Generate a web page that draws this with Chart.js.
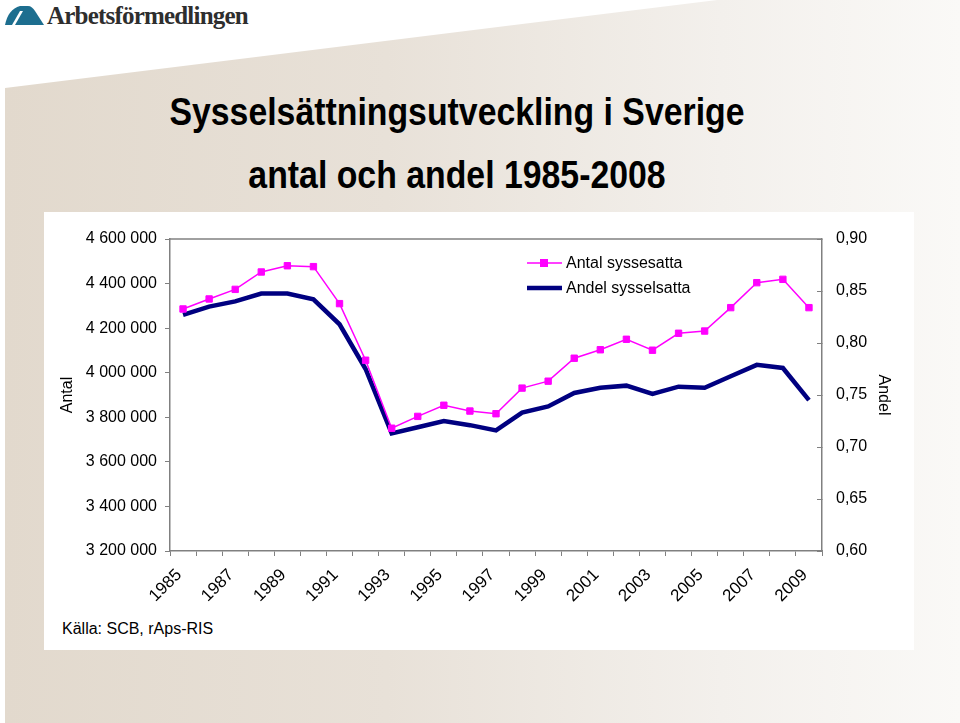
<!DOCTYPE html>
<html><head><meta charset="utf-8">
<script src="https://cdn.jsdelivr.net/npm/chart.js@4.4.1/dist/chart.umd.min.js"></script>
<style>
html,body{margin:0;padding:0;width:960px;height:723px;overflow:hidden;background:#fff;font-family:"Liberation Sans",Arial,sans-serif;}
#bg{position:absolute;left:5px;top:0;width:955px;height:723px;background:linear-gradient(90deg,#e2d9cd 0%,#e8e1d8 40%,#f3f0ec 75%,#faf9f7 100%);clip-path:polygon(0 88px,955px -30px,955px 723px,0 723px);}
#box{position:absolute;left:44px;top:212px;width:870px;height:438px;background:#fff;}
.t{position:absolute;left:0;width:914px;text-align:center;font-weight:bold;color:#000;font-size:38px;line-height:38px;white-space:nowrap;transform:scaleX(0.89);transform-origin:457px 0;}
#logo{position:absolute;left:5px;top:4px;}
#logotxt{position:absolute;left:47px;top:2px;font-family:"Liberation Serif","Times New Roman",serif;font-weight:bold;font-size:25px;letter-spacing:-0.8px;color:#2e2e2e;line-height:28px;}
#src{position:absolute;left:62px;top:619px;font-size:16px;line-height:20px;color:#000;}
#c{position:absolute;left:0;top:0;}
</style></head>
<body>
<div id="bg"></div>
<svg id="logo" width="40" height="24" viewBox="0 0 40 24">
  <path d="M0,21 C2,11 7,4 15,2 L23,2 C26,2 28,4 30,7 L39,21 Z" fill="#1d6e8f"/>
  <path d="M7,21 L15,7 L18,7 L10,21 Z" fill="#fff"/>
</svg>
<div id="logotxt">Arbetsförmedlingen</div>
<div class="t" style="top:93px;">Sysselsättningsutveckling i Sverige</div>
<div class="t" style="top:156px;">antal och andel 1985-2008</div>
<div id="box"></div>
<div id="src">Källa: SCB, rAps-RIS</div>
<canvas id="c" width="960" height="723"></canvas>
<script>
const years = ['1985','1986','1987','1988','1989','1990','1991','1992','1993','1994','1995','1996','1997','1998','1999','2000','2001','2002','2003','2004','2005','2006','2007','2008','2009'];
const antal = [4286000,4331000,4374000,4452000,4480000,4476000,4310000,4056000,3751000,3804000,3854000,3828000,3816000,3931000,3962000,4065000,4103000,4150000,4101000,4177000,4187000,4292000,4404000,4419000,4292000];
const andel = [0.827,0.835,0.840,0.8475,0.8475,0.842,0.818,0.775,0.713,0.719,0.725,0.721,0.716,0.733,0.739,0.752,0.757,0.759,0.751,0.758,0.757,0.768,0.779,0.776,0.745];
const antalTicks = [3200000,3400000,3600000,3800000,4000000,4200000,4400000,4600000];
const andelTicks = [0.60,0.65,0.70,0.75,0.80,0.85,0.90];
const seriesNames = ['Antal syssesatta','Andel sysselsatta'];
const axisTitles = ['Antal','Andel'];

const FONT = '"Liberation Sans", Arial, sans-serif';
const fmtSpace = v => String(Math.round(v)).replace(/\B(?=(\d{3})+(?!\d))/g,' ');
const fmtComma = v => Number(v).toFixed(2).replace('.',',');

const plotBorder = {
  id:'plotBorder',
  beforeDatasetsDraw(chart){
    const {ctx, chartArea:a} = chart;
    ctx.save();
    ctx.strokeStyle = '#808080';
    ctx.lineWidth = 1.5;
    ctx.beginPath();
    ctx.moveTo(a.left, a.top); ctx.lineTo(a.right, a.top);
    ctx.stroke();
    ctx.restore();
  }
};
const customLegend = {
  id:'customLegend',
  afterDraw(chart){
    const ctx = chart.ctx;
    const ds = chart.data.datasets;
    const x0 = 527, x1 = 562, tx = 566;
    const ys = [263, 288];
    ctx.save();
    ctx.font = '16px ' + FONT;
    ctx.textBaseline = 'middle';
    ctx.fillStyle = '#000';
    ds.forEach((d,i) => {
      const y = ys[i];
      ctx.strokeStyle = d.borderColor;
      ctx.lineWidth = d.borderWidth;
      ctx.beginPath(); ctx.moveTo(x0,y); ctx.lineTo(x1,y); ctx.stroke();
      if (d.pointRadius > 0) {
        ctx.fillStyle = d.pointBackgroundColor;
        ctx.fillRect(544-4, y-4, 8, 8);
      }
      ctx.fillStyle = '#000';
      ctx.fillText(d.label, tx, y+1);
    });
    ctx.restore();
  }
};

new Chart(document.getElementById('c'), {
  type:'line',
  data:{
    labels: years,
    datasets:[
      {label:seriesNames[0], data:antal, yAxisID:'y', borderColor:'#ff00ff', backgroundColor:'#ff00ff',
       pointBackgroundColor:'#ff00ff', pointBorderColor:'#ff00ff', borderWidth:1.5, pointStyle:'rect',
       pointRadius:4.5, pointBorderWidth:1, tension:0, order:0},
      {label:seriesNames[1], data:andel, yAxisID:'y1', borderColor:'#000080', backgroundColor:'#000080',
       borderWidth:4.5, pointRadius:0, tension:0, order:1, borderJoinStyle:'miter'}
    ]
  },
  options:{
    responsive:false, animation:false, devicePixelRatio:1,
    layout:{padding:{left:44, right:47, top:239, bottom:112}},
    plugins:{legend:{display:false}, title:{display:false}, tooltip:{enabled:false}},
    scales:{
      x:{type:'category', offset:true,
         grid:{display:true, drawOnChartArea:false, offset:true, tickLength:5, color:'#808080', lineWidth:1},
         border:{color:'#808080', width:1.5},
         ticks:{autoSkip:false, maxRotation:45, minRotation:45, padding:9, labelOffset:-4, color:'#000',
                font:{family:FONT, size:17},
                callback:(v,i)=> i%2===0 ? years[i] : ''},
         afterFit:s=>{s.height=60;}},
      y:{type:'linear', position:'left', min:antalTicks[0], max:antalTicks[antalTicks.length-1],
         afterBuildTicks:s=>{s.ticks = antalTicks.map(v=>({value:v}));},
         grid:{drawOnChartArea:false, tickLength:5, color:'#808080'},
         border:{color:'#808080', width:1.5},
         ticks:{padding:8, color:'#000', font:{family:FONT, size:16}, callback:v=>fmtSpace(v)},
         title:{display:true, text:axisTitles[0], color:'#000', font:{family:FONT, size:16}, padding:{top:14, bottom:0}},
         afterFit:s=>{s.width=126;}},
      y1:{type:'linear', position:'right', min:andelTicks[0], max:andelTicks[andelTicks.length-1],
         afterBuildTicks:s=>{s.ticks = andelTicks.map(v=>({value:v}));},
         grid:{drawOnChartArea:false, tickLength:-5, color:'#808080'},
         border:{color:'#808080', width:1.5},
         ticks:{padding:19, color:'#000', font:{family:FONT, size:16}, callback:v=>fmtComma(v)},
         title:{display:true, text:axisTitles[1], color:'#000', font:{family:FONT, size:16}, padding:{top:20, bottom:0}},
         afterFit:s=>{s.width=91;}}
    }
  },
  plugins:[plotBorder, customLegend]
});
</script>
</body></html>
